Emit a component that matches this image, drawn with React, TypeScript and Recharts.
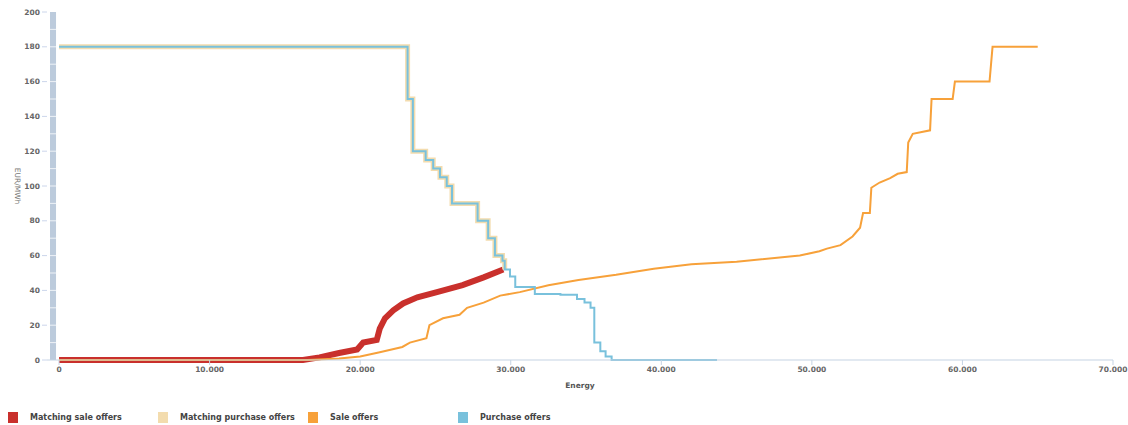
import * as React from "react"
import {
	ComposedChart,
	Line,
	XAxis,
	YAxis,
	ReferenceArea,
	ReferenceLine,
	Label,
} from "recharts"

// [energy, price] pairs
const matchingSaleOffers: [number, number][] = [
	[0, 0], [16200, 0], [17300, 1.5], [18600, 4], [19800, 6], [20200, 10],
	[21100, 11.5], [21300, 18], [21650, 24], [22200, 28.5], [22850, 32.5],
	[23800, 36], [25100, 39], [26800, 43], [28200, 47.5], [29500, 52],
]

const matchingPurchaseOffers: [number, number][] = [
	[0, 180], [23150, 150], [23500, 120], [24350, 115], [24850, 110],
	[25300, 105], [25750, 100], [26100, 90], [27800, 80], [28500, 70],
	[28950, 60], [29450, 57], [29600, 52],
]

const saleOffers: [number, number][] = [
	[0, 0], [16500, 0], [18600, 0.8], [20000, 2], [21300, 4.5], [22800, 7.5],
	[23300, 10], [24400, 12.5], [24600, 20], [25500, 24], [26600, 26],
	[27100, 30], [28200, 33], [29300, 37], [30600, 39], [32500, 43],
	[34500, 46], [37000, 49], [39500, 52.5], [42000, 55], [45000, 56.5],
	[49200, 60], [50500, 62.5], [51000, 64], [51900, 66], [52700, 71],
	[53200, 76], [53400, 84.5], [53850, 84.5], [53950, 99], [54500, 102],
	[55200, 104.5], [55700, 107], [56300, 108], [56400, 125], [56700, 130],
	[57850, 132], [57950, 150], [59350, 150], [59500, 160], [61800, 160],
	[61900, 170], [62000, 180], [65000, 180],
]

const purchaseOffers: [number, number][] = [
	[0, 180], [23150, 150], [23500, 120], [24350, 115], [24850, 110],
	[25300, 105], [25750, 100], [26100, 90], [27800, 80], [28500, 70],
	[28950, 60], [29450, 57], [29600, 52], [29950, 48], [30300, 42],
	[31600, 38], [33300, 37.5], [34400, 35], [34900, 33], [35300, 30],
	[35550, 10], [35950, 5], [36300, 2], [36700, 0], [43700, 0],
]

const xTicks = [0, 10000, 20000, 30000, 40000, 50000, 60000, 70000]
const yTicks = [0, 20, 40, 60, 80, 100, 120, 140, 160, 180, 200]
const bandSteps = [10, 20, 30, 40, 50, 60, 70, 80, 90, 100, 110, 120, 130, 140, 150, 160, 170, 180, 190]

const legendItems = [
	{ name: "Matching sale offers", color: "#c9302c" },
	{ name: "Matching purchase offers", color: "#f3dcae" },
	{ name: "Sale offers", color: "#f7a13a" },
	{ name: "Purchase offers", color: "#79c1dc" },
]

const toPoints = (pairs: [number, number][]) => pairs.map(([x, y]) => ({ x, y }))

const fmt = (v: number) => v.toLocaleString("de-DE")

const FONT = "'DejaVu Sans', Verdana, sans-serif"
const tickStyle = { fontSize: 7.5, fill: "#666", fontFamily: FONT, fontWeight: 700 }

export default function App() {
	return (
		<div style={{ position: "absolute", left: 0, top: 0, width: 1128, height: 425, background: "#fff" }}>
			<ComposedChart
				width={1128}
				height={400}
				margin={{ top: 12, right: 15, bottom: 10, left: 0 }}>
				<XAxis
					type="number"
					dataKey="x"
					domain={[-800, 70000]}
					ticks={xTicks}
					tickFormatter={fmt}
					allowDataOverflow
					stroke="#c5d3e3"
					tickSize={5}
					tick={tickStyle}
					height={30}>
					<Label
						value="Energy"
						position="insideBottom"
						offset={2}
						style={{ fontSize: 7.5, fill: "#555", fontFamily: FONT, fontWeight: 700 }}
					/>
				</XAxis>
				<YAxis
					type="number"
					dataKey="y"
					domain={[0, 200]}
					ticks={yTicks}
					width={47}
					axisLine={false}
					tickLine={{ stroke: "#ccd6eb" }}
					tickSize={5}
					tickMargin={2}
					tick={tickStyle}>
					<Label
						value="EUR/MWh"
						angle={90}
						position="insideLeft"
						offset={18}
						style={{ fontSize: 7.5, fill: "#777", fontFamily: FONT, textAnchor: "middle" }}
					/>
				</YAxis>
				<ReferenceArea x1={-600} x2={-200} y1={0} y2={200} fill="#bccbdc" fillOpacity={1} stroke="none" ifOverflow="visible" />
				{bandSteps.map((s) => (
					<ReferenceLine
						key={s}
						segment={[{ x: -600, y: s }, { x: -200, y: s }]}
						stroke="#eef2f7"
						strokeWidth={1}
						ifOverflow="visible"
					/>
				))}
				<Line
					data={toPoints(matchingSaleOffers)}
					dataKey="y"
					type="linear"
					stroke="#c9302c"
					strokeWidth={6}
					dot={false}
					isAnimationActive={false}
				/>
				<Line
					data={toPoints(matchingPurchaseOffers)}
					dataKey="y"
					type="stepAfter"
					stroke="#f3dcae"
					strokeWidth={5}
					dot={false}
					isAnimationActive={false}
				/>
				<Line
					data={toPoints(saleOffers)}
					dataKey="y"
					type="linear"
					stroke="#f7a13a"
					strokeWidth={2}
					dot={false}
					isAnimationActive={false}
				/>
				<Line
					data={toPoints(purchaseOffers)}
					dataKey="y"
					type="stepAfter"
					stroke="#79c1dc"
					strokeWidth={2}
					dot={false}
					isAnimationActive={false}
				/>
			</ComposedChart>
			<div style={{ position: "absolute", left: 8, top: 412, display: "flex", fontFamily: FONT, fontSize: 8, fontWeight: 700, color: "#444" }}>
				{legendItems.map((item) => (
					<div key={item.name} style={{ width: 150, display: "flex", alignItems: "center" }}>
						<span style={{ display: "inline-block", width: 10, height: 11, background: item.color, marginRight: 12 }} />
						<span>{item.name}</span>
					</div>
				))}
			</div>
		</div>
	)
}
